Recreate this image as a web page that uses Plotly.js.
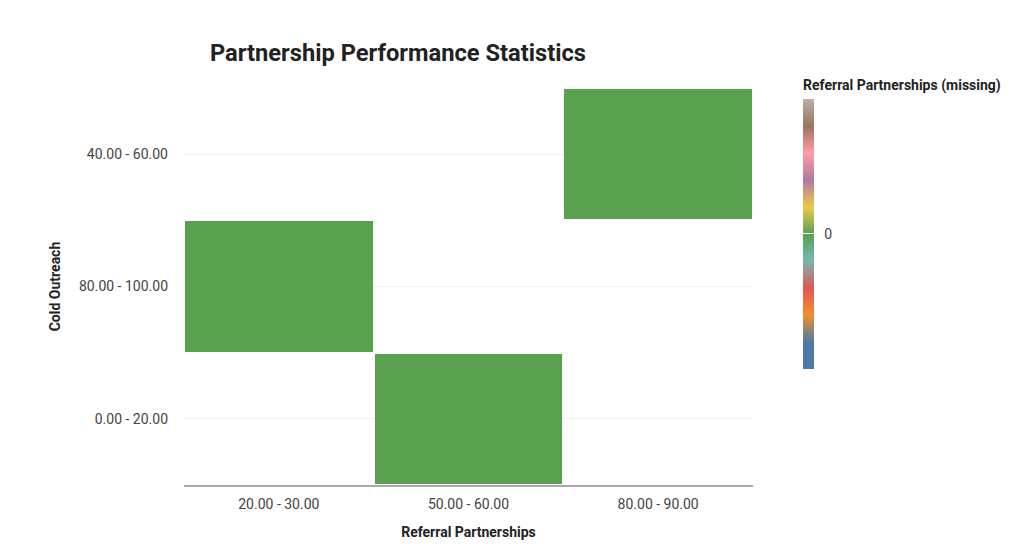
<!DOCTYPE html>
<html>
<head>
<meta charset="utf-8">
<script src="https://cdn.plot.ly/plotly-3.0.1.min.js"></script>
<style>
  html, body { margin: 0; padding: 0; background: #fff; }
  #chart { width: 1024px; height: 560px; }
</style>
</head>
<body>
<div id="chart"></div>
<script>
// categories
let xCats = ['20.00 - 30.00', '50.00 - 60.00', '80.00 - 90.00'];
let yCats = ['0.00 - 20.00', '80.00 - 100.00', '40.00 - 60.00'];

// one row per y category, null = missing cell
let row0to20 = [null, 0, null];
let row80to100 = [0, null, null];
let row40to60 = [null, null, 0];

let palette = ['#4e79a7', '#f28e2b', '#e15759', '#76b7b2', '#59a14f',
               '#edc948', '#b07aa1', '#ff9da7', '#9c755f', '#bab0ac'];

function buildScale() {
  let scale = [[0, palette[0]]];
  for(let i = 0; i < palette.length; i++) {
    scale.push([(i + 1) / 10, palette[i]]);
  }
  return scale;
}

let trace = {
  type: 'heatmap',
  x: xCats,
  y: yCats,
  z: [row0to20, row80to100, row40to60],
  zmin: -1,
  zmax: 1,
  colorscale: buildScale(),
  xgap: 2,
  ygap: 2,
  hoverongaps: false,
  colorbar: {
    title: {
      text: 'Referral Partnerships (missing)',
      side: 'top',
      font: { family: 'Roboto', size: 14, color: '#222', weight: 'bold' }
    },
    x: 1.088,
    xanchor: 'left',
    xpad: 0,
    y: 1.028,
    yanchor: 'top',
    ypad: 0,
    len: 0.735,
    thickness: 11,
    outlinewidth: 0,
    tickvals: [0],
    ticktext: ['\u00a0\u00a00'],
    ticks: 'inside',
    ticklen: 11,
    tickcolor: '#fff',
    tickfont: { family: 'Roboto', size: 14, color: '#444' }
  }
};

let layout = {
  width: 1024,
  height: 560,
  paper_bgcolor: '#fff',
  plot_bgcolor: '#fff',
  font: { family: 'Roboto', size: 14, color: '#444' },
  title: {
    text: 'Partnership Performance Statistics',
    font: { family: 'Roboto', size: 23.7, color: '#222', weight: 'bold' },
    x: 0.205,
    xref: 'container',
    xanchor: 'left',
    y: 0.905,
    yanchor: 'middle'
  },
  margin: { l: 184, r: 271, t: 88, b: 75 },
  xaxis: {
    type: 'category',
    categoryorder: 'array',
    categoryarray: xCats,
    showgrid: false,
    zeroline: false,
    showline: true,
    linecolor: '#aaa',
    linewidth: 2,
    ticks: '',
    ticklabelstandoff: 5,
    tickfont: { family: 'Roboto', size: 14, color: '#444' },
    title: {
      text: 'Referral Partnerships',
      standoff: 16,
      font: { family: 'Roboto', size: 14, color: '#222', weight: 'bold' }
    }
  },
  yaxis: {
    type: 'category',
    categoryorder: 'array',
    categoryarray: yCats,
    showgrid: true,
    gridcolor: '#f0f0f0',
    zeroline: false,
    showline: false,
    ticks: '',
    ticklabelstandoff: 15,
    tickfont: { family: 'Roboto', size: 14, color: '#444' },
    title: {
      text: 'Cold Outreach',
      standoff: 15,
      font: { family: 'Roboto', size: 14, color: '#222', weight: 'bold' }
    }
  }
};

Plotly.newPlot('chart', [trace], layout, { displayModeBar: false, staticPlot: true });
</script>
</body>
</html>
